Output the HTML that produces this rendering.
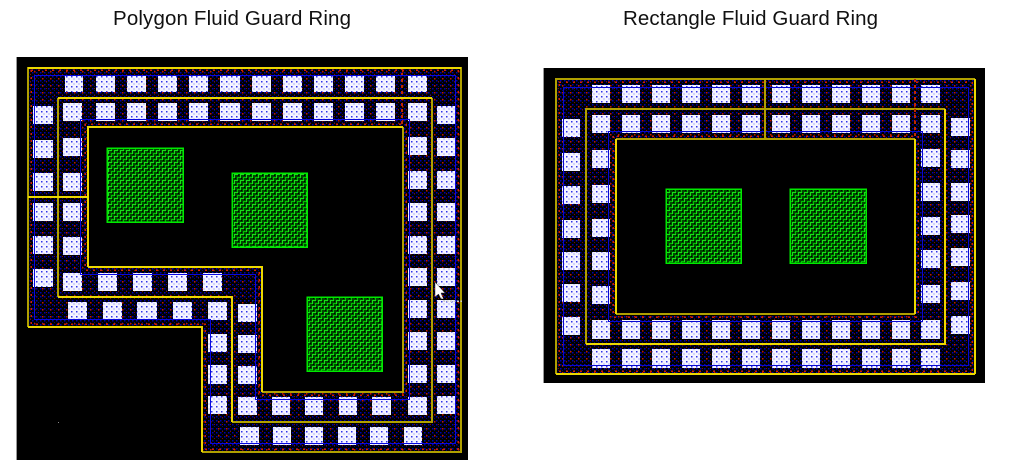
<!DOCTYPE html>
<html><head><meta charset="utf-8"><title>Fluid Guard Ring</title>
<style>html,body{margin:0;padding:0;background:#fff}svg{display:block}text{font-family:"Liberation Sans",sans-serif;font-size:20.5px;fill:#111}</style></head>
<body>
<svg width="1013" height="472" viewBox="0 0 1013 472" xmlns="http://www.w3.org/2000/svg" shape-rendering="crispEdges">
<defs>
<pattern id="b" width="4" height="4" patternUnits="userSpaceOnUse"><rect width="4" height="4" fill="#000"/><rect width="1.500" height="1.500" fill="#0000b0"/><rect x="2" y="2" width="1" height="1" fill="#000078"/></pattern>
<pattern id="r" width="8" height="7" patternUnits="userSpaceOnUse"><rect x="2" y="1" width="1.500" height="1.500" fill="#c01800"/><rect x="6" y="4" width="1" height="1" fill="#801000"/></pattern>
<pattern id="c" width="5" height="5" patternUnits="userSpaceOnUse"><rect width="5" height="5" fill="#f4f4ff"/><rect x="1" y="1" width="1.300" height="1.300" fill="#3030e8"/><rect x="3.500" y="3.500" width="1.200" height="1.200" fill="#7070f0"/></pattern>
<pattern id="g" width="6" height="6" patternUnits="userSpaceOnUse"><rect width="6" height="6" fill="#004800"/><rect x="0" y="0" width="4" height="1" fill="#18e018"/><rect x="0" y="0" width="1" height="4" fill="#18e018"/><rect x="3" y="3" width="3" height="1" fill="#00c000"/><rect x="3" y="3" width="1" height="3" fill="#00c000"/><rect x="4" y="1" width="1" height="1" fill="#000"/><rect x="1" y="4" width="1" height="1" fill="#000"/></pattern>
</defs>
<rect width="1013" height="472" fill="#fff"/>
<text x="113" y="25" textLength="238" lengthAdjust="spacing" shape-rendering="auto">Polygon Fluid Guard Ring</text>
<text x="623" y="25" textLength="255" lengthAdjust="spacing" shape-rendering="auto">Rectangle Fluid Guard Ring</text>

<!-- Left chip -->
<rect x="17" y="57" width="451" height="403" fill="#000"/>
<rect x="16" y="57" width="1" height="403" fill="#999"/>
<path fill="url(#b)" fill-rule="evenodd" d="M28 67H461V452H202V327H28ZM88 127V267H262V392H403V127Z"/>
<path fill="url(#r)" fill-rule="evenodd" d="M28 67H461V452H202V327H28ZM88 127V267H262V392H403V127Z"/>
<path fill="none" stroke="#d02000" stroke-width="1.500" stroke-dasharray="2 5" d="M31 70H458V449H205V324H31ZM85 124V270H259V395H406V124Z"/>
<path fill="none" stroke="#c02800" stroke-width="2" d="M402 67V127" stroke-dasharray="3 3"/>
<!-- Right chip -->
<rect x="544" y="68" width="441" height="315" fill="#000"/>
<rect x="543" y="68" width="1" height="315" fill="#999"/>
<path fill="url(#b)" fill-rule="evenodd" d="M556 79H975V374H556ZM616 139V314H915V139Z"/>
<path fill="url(#r)" fill-rule="evenodd" d="M556 79H975V374H556ZM616 139V314H915V139Z"/>
<path fill="none" stroke="#d02000" stroke-width="1.500" stroke-dasharray="2 5" d="M559 82H972V371H559ZM613 136V317H918V136Z"/>

<!-- Contacts -->
<path fill="url(#c)" d="M65 75h18v17h-18zM96 75h19v17h-19zM127 75h19v17h-19zM158 75h19v17h-19zM189 75h19v17h-19zM220 75h20v17h-20zM252 75h19v17h-19zM283 75h19v17h-19zM314 75h19v17h-19zM345 75h19v17h-19zM376 75h19v17h-19zM408 75h19v17h-19z
M63 103h19v18h-19zM96 103h19v18h-19zM127 103h19v18h-19zM158 103h19v18h-19zM189 103h19v18h-19zM220 103h20v18h-20zM252 103h19v18h-19zM283 103h19v18h-19zM314 103h19v18h-19zM345 103h19v18h-19zM376 103h19v18h-19zM408 103h19v18h-19z
M33 106h20v18h-20zM33 140h20v18h-20zM33 173h20v18h-20zM33 203h20v18h-20zM33 236h20v18h-20zM33 269h20v18h-20z
M63 138h19v18h-19zM63 173h19v18h-19zM63 203h19v18h-19zM63 237h19v18h-19zM63 273h19v18h-19z
M98 273h19v18h-19zM133 273h19v18h-19zM168 273h19v18h-19zM203 273h19v18h-19z
M68 302h19v18h-19zM103 302h19v18h-19zM137 302h20v18h-20zM173 302h19v18h-19zM208 302h19v18h-19z
M208 334h19v18h-19zM208 365h19v19h-19zM208 396h19v18h-19z
M238 304h19v18h-19zM238 335h19v18h-19zM238 366h19v18h-19zM238 397h19v18h-19z
M272 397h18v18h-18zM305 397h18v18h-18zM339 397h18v18h-18zM372 397h19v18h-19z
M240 427h19v18h-19zM273 427h18v18h-18zM305 427h18v18h-18zM338 427h18v18h-18zM370 427h18v18h-18zM404 427h18v18h-18z
M408 137h19v18h-19zM408 171h19v18h-19zM408 203h19v18h-19zM408 236h19v18h-19zM408 268h19v18h-19zM408 300h19v18h-19zM408 332h19v18h-19zM408 365h19v18h-19zM408 397h19v18h-19z
M437 106h19v18h-19zM437 138h19v18h-19zM437 171h19v18h-19zM437 203h19v18h-19zM437 236h19v18h-19zM437 268h19v18h-19zM437 300h19v18h-19zM437 332h19v18h-19zM437 365h19v18h-19zM437 396h19v18h-19z
M592 85h18v18h-18zM622 85h18v18h-18zM652 85h18v18h-18zM682 85h18v18h-18zM712 85h18v18h-18zM742 85h18v18h-18zM772 85h18v18h-18zM802 85h18v18h-18zM832 85h18v18h-18zM862 85h18v18h-18zM892 85h18v18h-18zM921 85h19v18h-19z
M592 115h18v18h-18zM622 115h18v18h-18zM652 115h18v18h-18zM682 115h18v18h-18zM712 115h18v18h-18zM742 115h18v18h-18zM772 115h18v18h-18zM802 115h18v18h-18zM832 115h18v18h-18zM862 115h18v18h-18zM892 115h18v18h-18zM921 115h19v18h-19z
M562 119h18v18h-18zM562 153h18v18h-18zM562 186h18v18h-18zM562 220h18v18h-18zM562 252h18v18h-18zM562 284h18v18h-18zM562 317h18v18h-18z
M592 150h18v18h-18zM592 185h18v18h-18zM592 219h18v18h-18zM592 252h18v18h-18zM592 286h18v18h-18z
M592 320h18v19h-18zM622 320h18v19h-18zM652 320h18v19h-18zM682 320h18v19h-18zM712 320h18v19h-18zM742 320h18v19h-18zM772 320h18v19h-18zM802 320h18v19h-18zM832 320h18v19h-18zM862 320h18v19h-18zM892 320h18v19h-18zM921 320h19v19h-19z
M592 349h18v19h-18zM622 349h18v19h-18zM652 349h18v19h-18zM682 349h18v19h-18zM712 349h18v19h-18zM742 349h18v19h-18zM772 349h18v19h-18zM802 349h18v19h-18zM832 349h18v19h-18zM862 349h18v19h-18zM892 349h18v19h-18zM921 349h19v19h-19z
M921 149h19v18h-19zM921 183h19v18h-19zM921 217h19v18h-19zM921 250h19v18h-19zM921 285h19v18h-19z
M951 118h19v18h-19zM951 150h19v18h-19zM951 183h19v18h-19zM951 215h19v18h-19zM951 248h19v18h-19zM951 282h19v18h-19zM951 316h19v18h-19z"/>

<!-- Blue wires -->
<path fill="none" stroke="#0808e0" stroke-width="1" d="M34.500 75.500H455.500V443.500H210.500V319.500H34.500ZM80.500 119.500H409.500V399.500H255.500V274.500H80.500Z"/>
<path fill="none" stroke="#0808d0" stroke-width="1" d="M563.500 87.500H968.500V365.500H563.500ZM608.500 131.500H922.500V321.500H608.500Z"/>

<!-- Green blocks -->
<g fill="url(#g)" stroke="#00e800" stroke-width="1.500">
<rect x="107" y="148" width="76" height="74"/>
<rect x="232" y="173" width="75" height="74"/>
<rect x="307" y="297" width="75" height="74"/>
<rect x="666" y="189" width="75" height="74"/>
<rect x="790" y="189" width="76" height="74"/>
</g>

<!-- Guard ring outlines -->
<g fill="none" stroke-width="2">
<path stroke="#b0a000" d="M28 67V327M202 452H461V67M58 98V297M232 422H432V98M403 127V392H262"/>
<path stroke="#ecd800" d="M28 68H461M28 327H202V452M58 98H432M58 297H232V422M88 267V127H403M88 267H262V392M28 197H88"/>
<path stroke="#b0a000" d="M556 374V79H975M586 344V109H945M616 139H915M616 314H915M765 79V139"/>
<path stroke="#ecd800" d="M975 79V374M556 374H975M945 109V344H586M616 139V314M915 139V314"/>
<path stroke="#c02800" stroke-dasharray="3 3" d="M915 79V139"/>
</g>

<!-- Cursor -->
<path shape-rendering="auto" fill="#fff" stroke="#333" stroke-width=".5" d="M435 282V297L438.500 294L441 299L443 298L441 293H445Z"/>
<path fill="none" stroke="#ccc" stroke-width="1.500" stroke-dasharray="2 1.500" d="M442 297L444 301H462"/>
<rect x="58" y="422" width="1" height="1" fill="#888"/>
</svg>
</body></html>
